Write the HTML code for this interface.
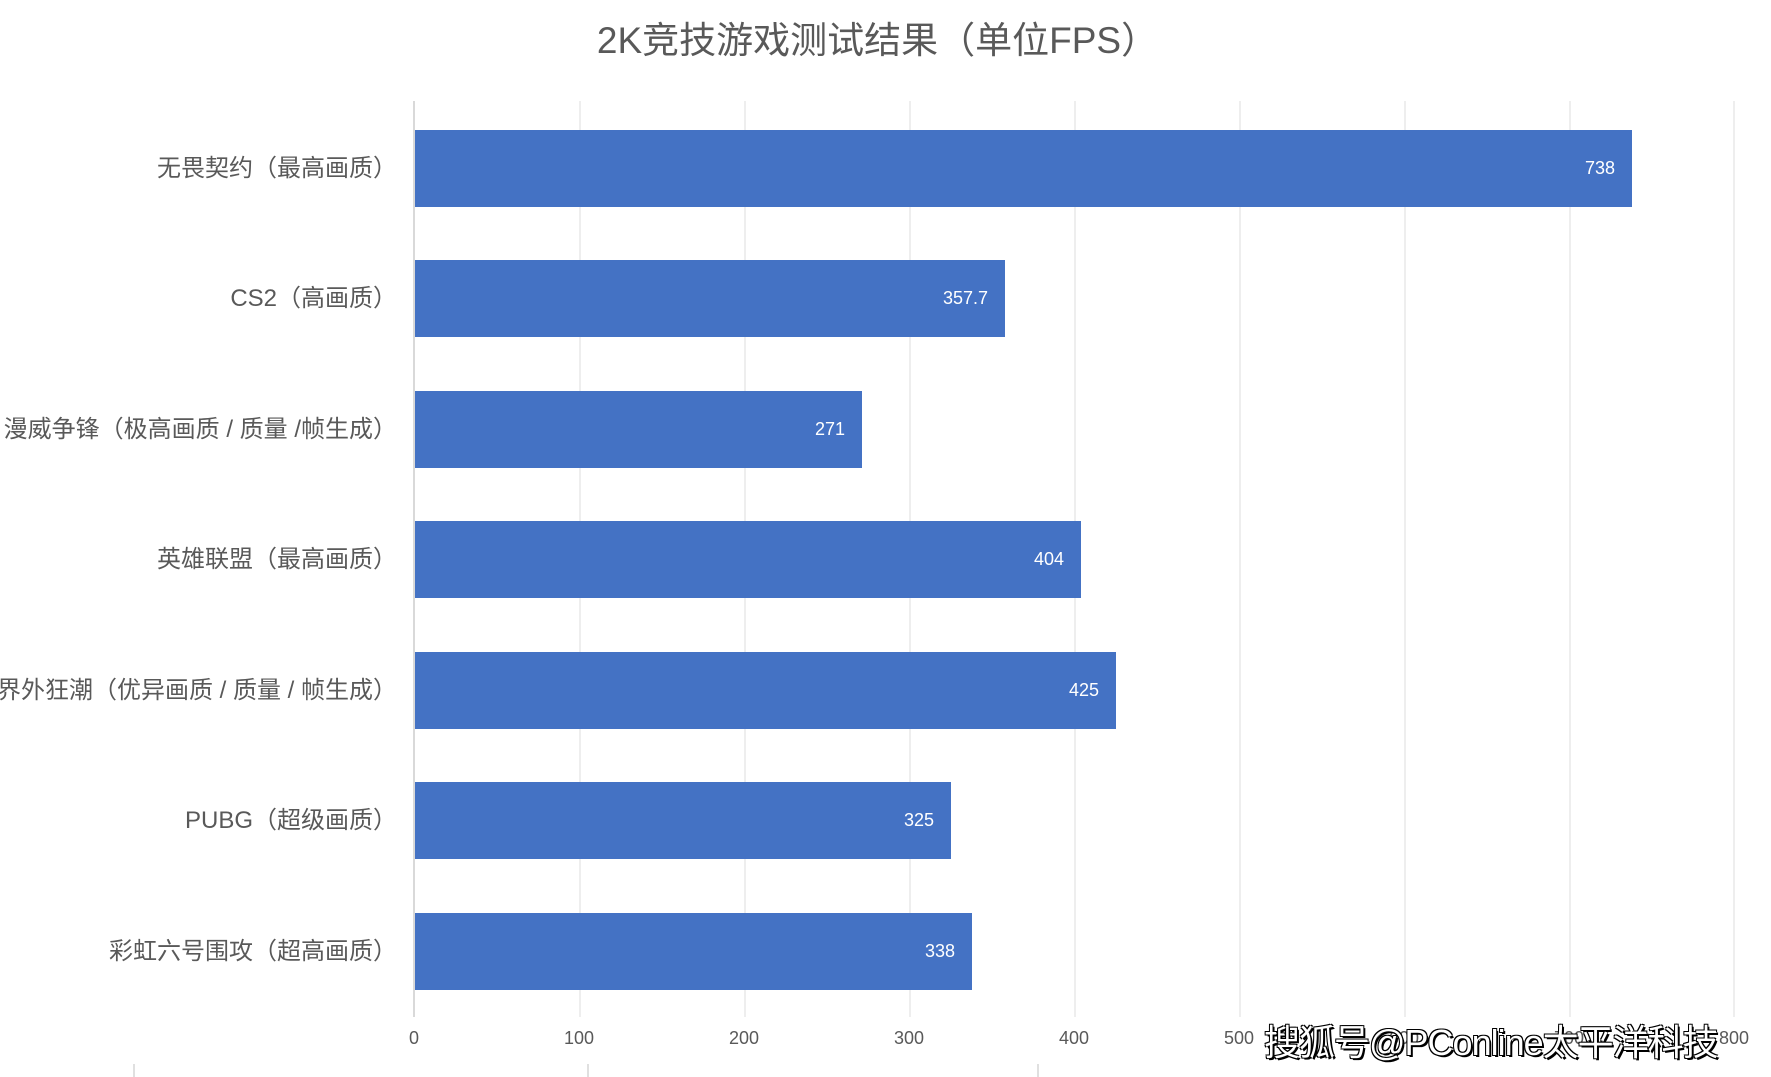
<!DOCTYPE html>
<html><head><meta charset="utf-8"><style>
body{margin:0;width:1771px;height:1077px;background:#fff;position:relative;overflow:hidden;font-family:"Liberation Sans","Noto Sans CJK SC",sans-serif}
.a{position:absolute}
.g{position:absolute;top:101px;height:916px;width:2px;background:#eeeeee}
.bar{position:absolute;left:415px;height:77px;background:#4472c4}
.v{position:absolute;right:17px;top:0;line-height:77px;color:#fff;font-size:18px}
.lab{position:absolute;right:1374px;width:600px;text-align:right;font-size:24px;color:#595959;line-height:30px;white-space:nowrap}
.t{position:absolute;top:1028px;width:80px;margin-left:-40px;text-align:center;font-size:18px;color:#595959}
</style></head><body>
<div class="a" style="top:10px;left:-8px;width:1771px;text-align:center;font-size:37px;color:#595959">2K竞技游戏测试结果（单位FPS）</div>
<div class="g" style="left:579px"></div><div class="g" style="left:744px"></div><div class="g" style="left:909px"></div><div class="g" style="left:1074px"></div><div class="g" style="left:1239px"></div><div class="g" style="left:1404px"></div><div class="g" style="left:1569px"></div><div class="g" style="left:1733px"></div>
<div class="g" style="left:413px;background:#d9d9d9"></div>
<div class="bar" style="top:130px;width:1217px"><span class="v">738</span></div>
<div class="bar" style="top:260px;width:590px"><span class="v">357.7</span></div>
<div class="bar" style="top:391px;width:447px"><span class="v">271</span></div>
<div class="bar" style="top:521px;width:666px"><span class="v">404</span></div>
<div class="bar" style="top:652px;width:701px"><span class="v">425</span></div>
<div class="bar" style="top:782px;width:536px"><span class="v">325</span></div>
<div class="bar" style="top:913px;width:557px"><span class="v">338</span></div>
<div class="lab" style="top:154px">无畏契约（最高画质）</div>
<div class="lab" style="top:284px">CS2（高画质）</div>
<div class="lab" style="top:415px">漫威争锋（极高画质 / 质量 /帧生成）</div>
<div class="lab" style="top:545px">英雄联盟（最高画质）</div>
<div class="lab" style="top:676px">界外狂潮（优异画质 / 质量 / 帧生成）</div>
<div class="lab" style="top:806px">PUBG（超级画质）</div>
<div class="lab" style="top:937px">彩虹六号围攻（超高画质）</div>
<div class="t" style="left:414px">0</div><div class="t" style="left:579px">100</div><div class="t" style="left:744px">200</div><div class="t" style="left:909px">300</div><div class="t" style="left:1074px">400</div><div class="t" style="left:1239px">500</div><div class="t" style="left:1404px">600</div><div class="t" style="left:1569px">700</div><div class="t" style="left:1734px">800</div>
<div class="a" style="left:133px;top:1064px;width:2px;height:13px;background:#e0e0e0"></div>
<div class="a" style="left:587px;top:1064px;width:2px;height:13px;background:#e0e0e0"></div>
<div class="a" style="left:1037px;top:1064px;width:2px;height:13px;background:#e0e0e0"></div>
<div class="a" style="left:1264px;top:1014px;font-size:36px;letter-spacing:-1px;color:#fff;white-space:nowrap;text-shadow:2px 2px 0 #000,-1px -1px 0 #000,1px -1px 0 #000,-1px 1px 0 #000">搜狐号@PConline太平洋科技</div>
</body></html>
